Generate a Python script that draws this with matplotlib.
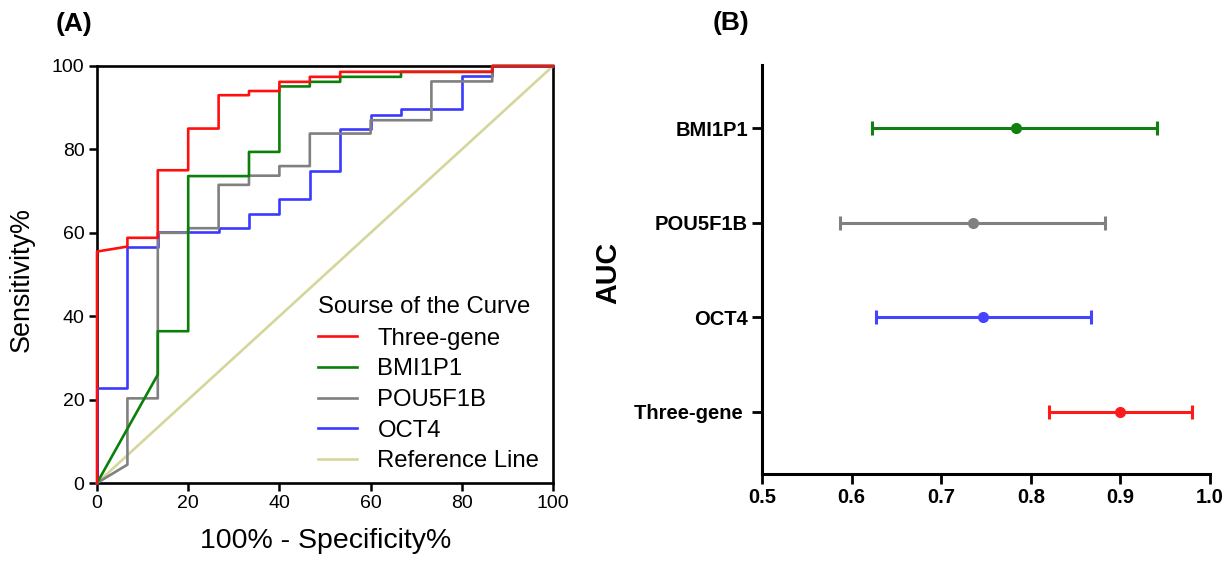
import matplotlib
matplotlib.use("Agg")
import matplotlib.pyplot as plt

plt.rcParams['font.family'] = ['Liberation Sans', 'DejaVu Sans']

# ---------------- data ----------------
# ROC curves: (100% - specificity%, sensitivity%)
three_fpr = [0, 0, 6.67, 6.67, 13.33, 13.33, 20, 20, 26.67, 26.67, 33.33, 33.33, 40, 40, 46.67, 46.67, 53.33, 53.33, 86.67, 86.67, 100]
three_tpr = [0, 55.5, 56.7, 58.8, 58.8, 75, 75, 85, 85, 93, 93, 94, 94, 96.2, 96.2, 97.4, 97.4, 98.6, 98.6, 100, 100]

bmi_fpr = [0, 13.33, 13.33, 20, 20, 33.33, 33.33, 40, 40, 46.67, 46.67, 53.33, 53.33, 66.67, 66.67, 86.67, 86.67, 100]
bmi_tpr = [0, 26, 36.4, 36.4, 73.6, 73.6, 79.4, 79.4, 95.1, 95.1, 96.2, 96.2, 97.4, 97.4, 98.6, 98.6, 100, 100]

pou_fpr = [0, 6.67, 6.67, 13.33, 13.33, 20, 20, 26.67, 26.67, 33.33, 33.33, 40, 40, 46.67, 46.67, 60, 60, 73.33, 73.33, 86.67, 86.67, 100]
pou_tpr = [0, 4.4, 20.3, 20.3, 60, 60, 61.1, 61.1, 71.5, 71.5, 73.7, 73.7, 76, 76, 83.8, 83.8, 87, 87, 96.3, 96.3, 100, 100]

oct_fpr = [0, 0, 6.67, 6.67, 13.33, 13.33, 26.67, 26.67, 33.33, 33.33, 40, 40, 46.67, 46.67, 53.33, 53.33, 60, 60, 66.67, 66.67, 80, 80, 86.67, 86.67, 100]
oct_tpr = [0, 22.7, 22.7, 56.7, 56.7, 60.2, 60.2, 61.2, 61.2, 64.5, 64.5, 68.1, 68.1, 74.8, 74.8, 85, 85, 88.2, 88.2, 89.7, 89.7, 97.5, 97.5, 100, 100]

ref_x = [0, 100]
ref_y = [0, 100]

# AUC with 95% CI
auc_labels = ['BMI1P1', 'POU5F1B', 'OCT4', 'Three-gene ']
auc_values = [0.783, 0.735, 0.747, 0.900]
auc_low = [0.623, 0.587, 0.627, 0.820]
auc_high = [0.941, 0.883, 0.867, 0.980]
auc_colors = ['#108010', '#808080', '#4444ff', '#ff1a1a']

# ---------------- figure ----------------
W, H = 1226, 570
fig = plt.figure(figsize=(W / 100, H / 100), dpi=100)

def box(l, t, r, b):
    return [l / W, 1 - b / H, (r - l) / W, (b - t) / H]

ax1 = fig.add_axes(box(97, 66, 553, 483))
ax2 = fig.add_axes(box(762, 65, 1210, 474))

lw = 1.9
ax1.plot(ref_x, ref_y, color='#d6d69c', lw=lw, label='Reference Line', zorder=3)
ax1.plot(oct_fpr, oct_tpr, color='#3a3aff', lw=lw, label='OCT4', zorder=3.1, clip_on=False)
ax1.plot(pou_fpr, pou_tpr, color='#808080', lw=lw, label='POU5F1B', zorder=3.2, clip_on=False)
ax1.plot(bmi_fpr, bmi_tpr, color='#0a800a', lw=lw, label='BMI1P1', zorder=3.3, clip_on=False)
ax1.plot(three_fpr, three_tpr, color='#ff1010', lw=lw, label='Three-gene', zorder=3.4, clip_on=False)

ax1.set_xlim(0, 100)
ax1.set_ylim(0, 100)
ax1.set_xticks([0, 20, 40, 60, 80, 100])
ax1.set_yticks([0, 20, 40, 60, 80, 100])
ax1.tick_params(direction='out', length=6, width=1.8, labelsize=14, colors='black', pad=3)
for s in ax1.spines.values():
    s.set_linewidth(1.9)
    s.set_color('black')

handles, labels = ax1.get_legend_handles_labels()
order = ['Three-gene', 'BMI1P1', 'POU5F1B', 'OCT4', 'Reference Line']
hmap = dict(zip(labels, handles))
leg = ax1.legend([hmap[k] for k in order], order, title='Sourse of the Curve',
                 loc='upper left', bbox_to_anchor=((318 - 97) / 456, (483 - 296) / 417),
                 frameon=False, fontsize=17.2, title_fontsize=17.2, borderpad=0,
                 borderaxespad=0, handlelength=1.62, handletextpad=0.87,
                 labelspacing=0.36, alignment='left')
leg.set_zorder(5)
try:
    leg._legend_box.sep = 7
except Exception:
    pass

fig.text(22 / W, 1 - 279 / H, 'Sensitivity%', rotation=90, ha='center', va='center', fontsize=19.4)
fig.text(326 / W, 1 - 541 / H, '100% - Specificity%', ha='center', va='center', fontsize=20.5)
fig.text(74 / W, 1 - 24 / H, '(A)', ha='center', va='center', fontsize=19, fontweight='bold')
fig.text(731 / W, 1 - 23 / H, '(B)', ha='center', va='center', fontsize=19, fontweight='bold')

# ---------------- AUC panel ----------------
ypos = [4, 3, 2, 1]
for y, v, lo, hi, c in zip(ypos, auc_values, auc_low, auc_high, auc_colors):
    ax2.errorbar([v], [y], xerr=[[v - lo], [hi - v]], fmt='o', color=c, ecolor=c,
                 elinewidth=2.2, capsize=5, capthick=2.2, markersize=7)

ax2.set_xlim(0.5, 1.0)
ax2.set_ylim(0.34, 4.667)
ax2.set_xticks([0.5, 0.6, 0.7, 0.8, 0.9, 1.0])
ax2.set_xticklabels(['0.5', '0.6', '0.7', '0.8', '0.9', '1.0'])
ax2.set_yticks(ypos)
ax2.set_yticklabels(auc_labels)
ax2.spines['top'].set_visible(False)
ax2.spines['right'].set_visible(False)
for s in ['left', 'bottom']:
    ax2.spines[s].set_linewidth(2.2)
    ax2.spines[s].set_color('black')
ax2.tick_params(direction='out', length=7, width=2.0, colors='black', pad=3)
for t in ax2.get_xticklabels() + ax2.get_yticklabels():
    t.set_fontweight('bold')
    t.set_fontsize(14.5)

fig.text(608 / W, 1 - 273 / H, 'AUC', rotation=90, ha='center', va='center',
         fontsize=20.7, fontweight='bold')

fig.savefig('out.png', dpi=100)
